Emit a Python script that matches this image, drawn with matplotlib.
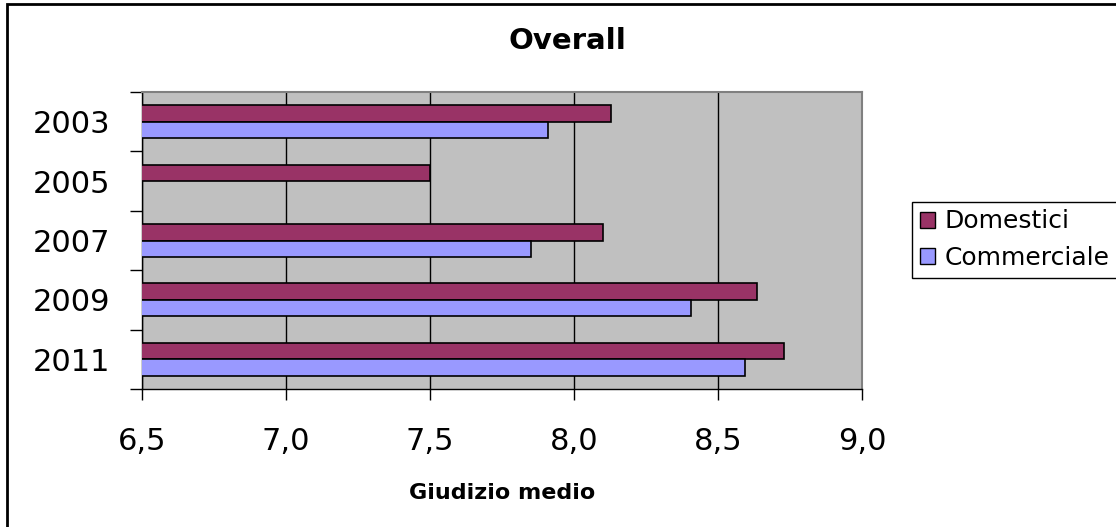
import matplotlib.pyplot as plt
import numpy as np
from matplotlib.patches import Patch, Rectangle

# data
years = ["2003", "2005", "2007", "2009", "2011"]
domestici = [8.13, 7.50, 8.10, 8.635, 8.73]
commerciale = [7.91, np.nan, 7.85, 8.405, 8.595]
x_ticks = [6.5, 7.0, 7.5, 8.0, 8.5, 9.0]
x_labels = ["6,5", "7,0", "7,5", "8,0", "8,5", "9,0"]

W, H = 1116, 527
fig = plt.figure(figsize=(W / 100, H / 100), dpi=100)
fig.patch.set_facecolor("white")

# outer chart frame (only left/top visible in the reference)
fig.patches.append(
    Rectangle((7 / W, -0.1), 1.2, 1 - 4 / H + 0.1, transform=fig.transFigure,
              fill=False, edgecolor="black", linewidth=2)
)

ax = fig.add_axes([142 / W, 1 - 389 / H, 720 / W, 297 / H])
ax.set_facecolor("#C0C0C0")

pos = np.arange(len(years))
bh = 0.278
ax.barh(pos - bh / 2, domestici, height=bh, left=0, color="#993366",
        edgecolor="black", linewidth=1.2, label="Domestici", zorder=3)
ax.barh(pos + bh / 2, commerciale, height=bh, left=0, color="#9999FF",
        edgecolor="black", linewidth=1.2, label="Commerciale", zorder=3)

ax.set_xlim(6.5, 9.0)
ax.set_ylim(len(years) - 0.5, -0.5)

ax.set_xticks(x_ticks)
ax.set_xticklabels(x_labels, fontsize=22)
ax.tick_params(axis="x", direction="out", length=8, width=1, pad=19, colors="black")
ax.grid(axis="x", color="black", linewidth=1, zorder=1)

ax.set_yticks(pos)
ax.set_yticklabels(years, fontsize=22)
ax.set_yticks(np.arange(len(years) + 1) - 0.5, minor=True)
ax.tick_params(axis="y", which="major", length=0, pad=23)
ax.tick_params(axis="y", which="minor", direction="out", length=8.6, width=1)

for s in ["top", "right"]:
    ax.spines[s].set_color("#808080")
    ax.spines[s].set_linewidth(1.5)
for s in ["left", "bottom"]:
    ax.spines[s].set_color("black")
    ax.spines[s].set_linewidth(1)

fig.text(567 / W, 1 - 41 / H, "Overall", ha="center", va="center",
         fontsize=21, fontweight="bold")
fig.text(502 / W, 1 - 493 / H, "Giudizio medio", ha="center", va="center",
         fontsize=16, fontweight="bold")

handles = [Patch(facecolor="#993366", edgecolor="black", linewidth=1),
           Patch(facecolor="#9999FF", edgecolor="black", linewidth=1)]
leg = fig.legend(handles, ["Domestici", "Commerciale"], loc="upper left",
                 bbox_to_anchor=(912 / W, 1 - 202 / H), borderaxespad=0,
                 fontsize=18, frameon=True, fancybox=False, framealpha=1,
                 edgecolor="black", handlelength=0.6, handleheight=0.6,
                 handletextpad=0.4, borderpad=0.3, labelspacing=0.5)
leg.get_frame().set_linewidth(1)

fig.savefig("out.png", dpi=100)
